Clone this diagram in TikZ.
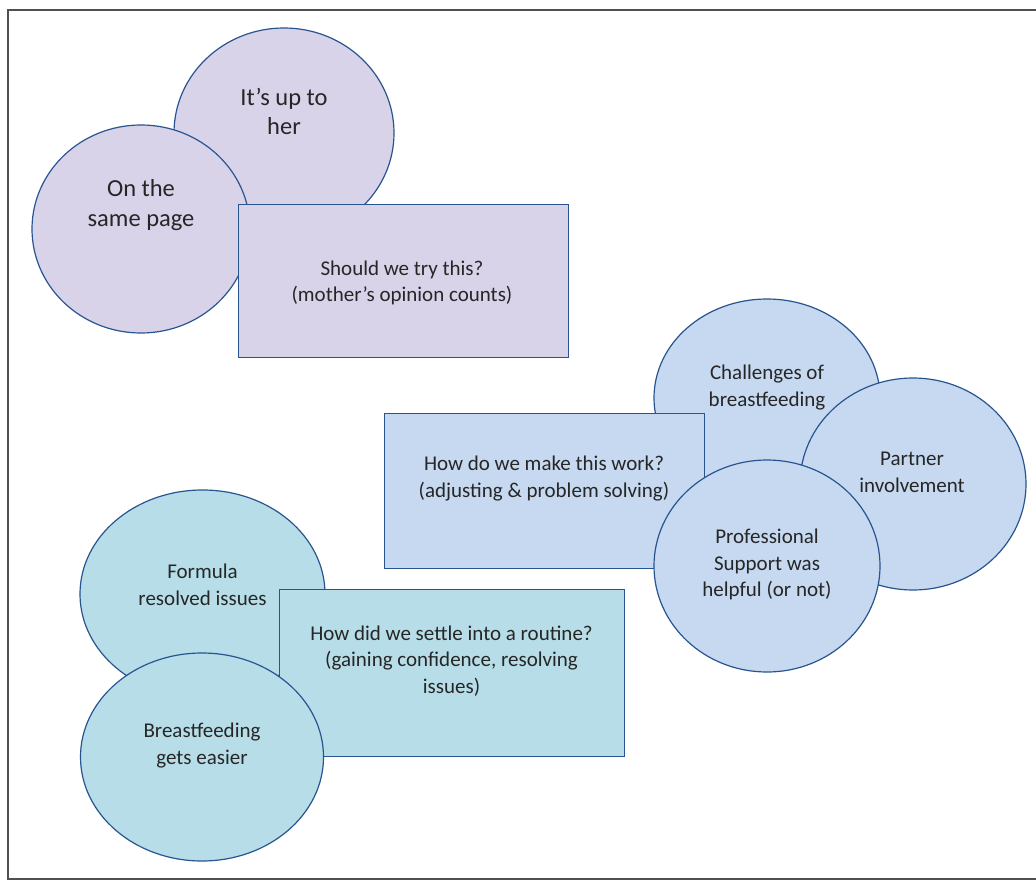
\documentclass[tikz,border=0pt]{standalone}
\usepackage{fontspec}
\setmainfont{Carlito}
\usetikzlibrary{shapes.geometric}
\definecolor{purplefill}{RGB}{217,211,233}
\definecolor{bluefill}{RGB}{198,217,240}
\definecolor{tealfill}{RGB}{183,222,232}
\definecolor{edgeblue}{RGB}{40,84,144}
\definecolor{txt}{RGB}{38,38,38}
\definecolor{framegray}{RGB}{80,80,80}
\tikzset{
  oval/.style={ellipse, draw=edgeblue, line width=1.2pt, inner sep=0pt},
  box/.style={rectangle, draw=edgeblue, line width=1.2pt, inner sep=0pt, anchor=north west},
  lbl/.style={text=txt, align=center, inner sep=0pt, font=\fontsize{21pt}{26.5pt}\selectfont},
  biglbl/.style={lbl, font=\fontsize{24.5pt}{29.5pt}\selectfont},
}
\begin{document}
\begin{tikzpicture}[x=1pt, y=-1pt]
\clip (0,0) rectangle (1036,880);
\fill[white] (0,0) rectangle (1036,880);
\draw[framegray, line width=1.5pt] (8,10) rectangle (1050,879);

% purple group
\node[oval, fill=purplefill, minimum width=220pt, minimum height=210pt] (upto) at (284,133) {};
\node[biglbl] (uptoT) at (284,111.5) {It’s up to\\her};
\node[oval, fill=purplefill, minimum width=218pt, minimum height=208pt] (same) at (141,229) {};
\node[biglbl] (sameT) at (141,205) {On the\\same page};
\node[box, fill=purplefill, minimum width=330pt, minimum height=153pt] (should) at (238,204) {};
\node[lbl] (shouldT) at (402,283) {Should we try this?\\(mother’s opinion counts)};

% blue group
\node[oval, fill=bluefill, minimum width=226pt, minimum height=198pt] (chal) at (767,398) {};
\node[lbl] (chalT) at (767,387.5) {Challenges of\\breastfeeding};
\node[box, fill=bluefill, minimum width=320pt, minimum height=155pt] (how) at (384,413) {};
\node[lbl] (howT) at (544,478.5) {How do we make this work?\\(adjusting \& problem solving)};
\node[oval, fill=bluefill, minimum width=226pt, minimum height=212pt] (partner) at (913,484) {};
\node[lbl] (partnerT) at (912,472.5) {Partner\\involvement};
\node[oval, fill=bluefill, minimum width=226pt, minimum height=212pt] (prof) at (767,566) {};
\node[lbl] (profT) at (767,564.5) {Professional\\Support was\\helpful (or not)};

% teal group
\node[oval, fill=tealfill, minimum width=245pt, minimum height=208pt] (formula) at (202.5,594) {};
\node[lbl] (formulaT) at (202.5,585) {Formula\\resolved issues};
\node[box, fill=tealfill, minimum width=345pt, minimum height=167pt] (settle) at (279,589) {};
\node[lbl] (settleT) at (451.5,661) {How did we settle into a routine?\\(gaining confidence, resolving\\issues)};
\node[oval, fill=tealfill, minimum width=243pt, minimum height=208pt] (easier) at (202,757) {};
\node[lbl] (easierT) at (202,745.5) {Breastfeeding\\gets easier};
\end{tikzpicture}
\end{document}
